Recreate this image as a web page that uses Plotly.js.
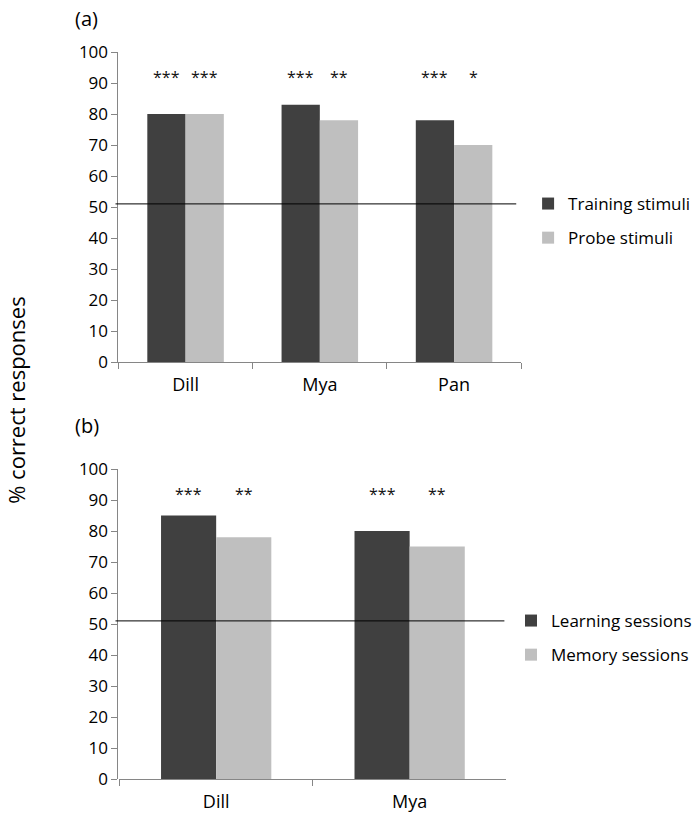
<!DOCTYPE html>
<html>
<head>
<meta charset="utf-8">
<script src="https://cdn.plot.ly/plotly-3.0.1.min.js"></script>
<style>html,body{margin:0;padding:0;background:#fff;}#chart{width:697px;height:816px;}</style>
</head>
<body>
<div id="chart"></div>
<script>
// Panel (a)
var catsA = ['Dill', 'Mya', 'Pan'];
var trainingA = [80, 83, 78];
var probeA = [80, 78, 70];
var sigTrainingA = ['***', '***', '***'];
var sigProbeA = ['***', '**', '*'];
// Panel (b)
var catsB = ['Dill', 'Mya'];
var learningB = [85, 80];
var memoryB = [78, 75];
var sigLearningB = ['***', '***'];
var sigMemoryB = ['**', '**'];
var chanceLevel = 51;
var sigLevel = 92;
var yTicks = [0, 10, 20, 30, 40, 50, 60, 70, 80, 90, 100];

var DARK = '#404040', LIGHT = '#bfbfbf', AXIS = '#868686';
var FONT = 'Open Sans, sans-serif';
var BARGAP = 0.43;

var traces = [
  {type: 'bar', x: catsA, y: trainingA, name: 'Training stimuli', marker: {color: DARK}, xaxis: 'x', yaxis: 'y', legend: 'legend', legendgroup: 'a1'},
  {type: 'bar', x: catsA, y: probeA, name: 'Probe stimuli', marker: {color: LIGHT}, xaxis: 'x', yaxis: 'y', legend: 'legend', legendgroup: 'a2'},
  {type: 'bar', x: catsB, y: learningB, name: 'Learning sessions', marker: {color: DARK}, xaxis: 'x2', yaxis: 'y2', legend: 'legend2', legendgroup: 'b1'},
  {type: 'bar', x: catsB, y: memoryB, name: 'Memory sessions', marker: {color: LIGHT}, xaxis: 'x2', yaxis: 'y2', legend: 'legend2', legendgroup: 'b2'}
];

var off = (1 - BARGAP) / 4;
var annotations = [];
function addSig(cats, sigs, dx, xr, yr) {
  cats.forEach(function (c, i) {
    annotations.push({x: i + dx, y: sigLevel, xref: xr, yref: yr, text: sigs[i], showarrow: false,
      font: {family: FONT, size: 16, color: '#111'}, yanchor: 'middle'});
  });
}
addSig(catsA, sigTrainingA, -off, 'x', 'y');
addSig(catsA, sigProbeA, off, 'x', 'y');
addSig(catsB, sigLearningB, -off, 'x2', 'y2');
addSig(catsB, sigMemoryB, off, 'x2', 'y2');
annotations.push({x: 74 / 697, y: 1 - 18 / 816, xref: 'paper', yref: 'paper', text: '(a)', showarrow: false, xanchor: 'left', yanchor: 'middle', font: {family: FONT, size: 20, color: '#000'}});
annotations.push({x: 74 / 697, y: 1 - 425 / 816, xref: 'paper', yref: 'paper', text: '(b)', showarrow: false, xanchor: 'left', yanchor: 'middle', font: {family: FONT, size: 20, color: '#000'}});
annotations.push({x: 16 / 697, y: 1 - 400 / 816, xref: 'paper', yref: 'paper', text: '% correct responses', showarrow: false, textangle: -90, xanchor: 'center', yanchor: 'middle', font: {family: FONT, size: 22, color: '#000'}});

function yax(dom) {
  return {domain: dom, range: [0, 100], tickvals: yTicks, ticks: 'outside', ticklen: 6, tickcolor: AXIS,
    showline: true, linecolor: AXIS, linewidth: 1, showgrid: false, zeroline: false, fixedrange: true,
    tickfont: {family: FONT, size: 17, color: '#000'}};
}
function xax(dom, n, anchor) {
  return {domain: dom, range: [-0.5, n - 0.5], type: 'category', ticks: 'outside', tickson: 'boundaries', ticklen: 6,
    tickcolor: AXIS, showline: true, linecolor: AXIS, linewidth: 1, showgrid: false, zeroline: false, anchor: anchor,
    ticklabelstandoff: 6, tickfont: {family: FONT, size: 18, color: '#000'}, fixedrange: true};
}

var layout = {
  width: 697, height: 816,
  margin: {l: 0, r: 0, t: 0, b: 0},
  paper_bgcolor: '#fff', plot_bgcolor: '#fff',
  barmode: 'group', bargap: BARGAP, bargroupgap: 0,
  xaxis: xax([120 / 697, 528 / 697], catsA.length, 'y'),
  yaxis: yax([1 - 362 / 816, 1 - 52 / 816]),
  xaxis2: xax([121 / 697, 513 / 697], catsB.length, 'y2'),
  yaxis2: yax([1 - 779 / 816, 1 - 469 / 816]),
  showlegend: true,
  legend: {x: 535 / 697, y: 1 - 186 / 816, xanchor: 'left', yanchor: 'top', font: {family: FONT, size: 17, color: '#000'}, tracegroupgap: 9, bgcolor: 'rgba(0,0,0,0)', itemwidth: 30},
  legend2: {x: 518 / 697, y: 1 - 603 / 816, xanchor: 'left', yanchor: 'top', font: {family: FONT, size: 17, color: '#000'}, tracegroupgap: 9, bgcolor: 'rgba(0,0,0,0)', itemwidth: 30},
  shapes: [
    {type: 'line', xref: 'x domain', yref: 'y', x0: -3 / 408, x1: 403 / 408, y0: chanceLevel, y1: chanceLevel, line: {color: '#000', width: 1}},
    {type: 'line', xref: 'x2 domain', yref: 'y2', x0: -4 / 392, x1: 390 / 392, y0: chanceLevel, y1: chanceLevel, line: {color: '#000', width: 1}}
  ],
  annotations: annotations
};

Plotly.newPlot('chart', traces, layout, {displayModeBar: false, staticPlot: true});
</script>
</body>
</html>
